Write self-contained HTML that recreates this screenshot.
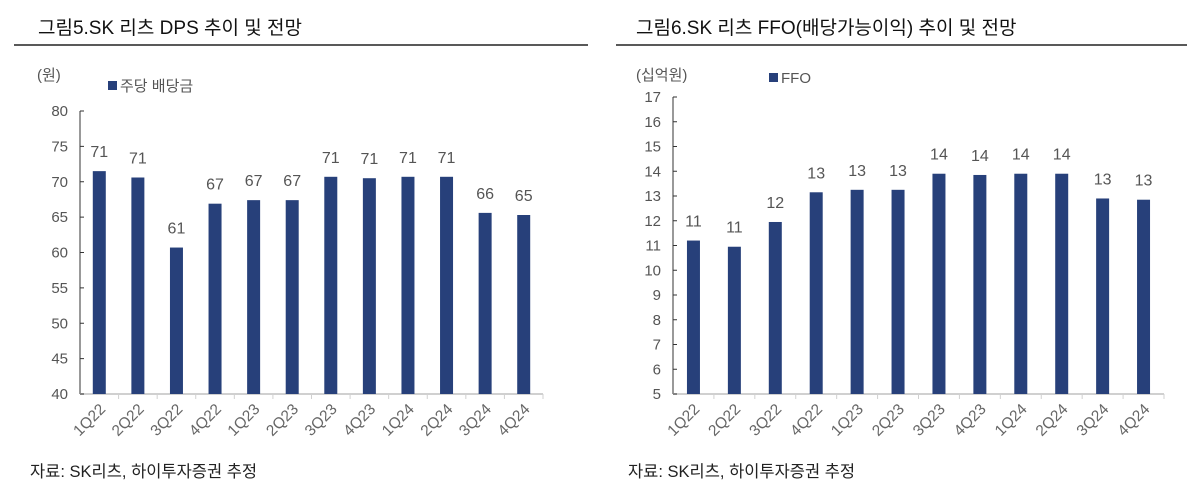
<!DOCTYPE html>
<html><head><meta charset="utf-8"><style>
body{margin:0;background:#fff;width:1199px;height:499px;overflow:hidden}
svg{display:block}
text{font-family:"Liberation Sans","Noto Sans CJK KR",sans-serif}
</style></head><body>
<svg id="s" width="1199" height="499" xmlns="http://www.w3.org/2000/svg"></svg>
<script>
const s=document.getElementById('s');let h='';
const cats=['1Q22','2Q22','3Q22','4Q22','1Q23','2Q23','3Q23','4Q23','1Q24','2Q24','3Q24','4Q24'];
const C='#27407a';
function chart(o){
 const {x0,x1,yTop,yBot,vmin,vmax,step,vals,labs}=o;
 const sc=(yBot-yTop)/(vmax-vmin), Y=v=>yBot-(v-vmin)*sc;
 h+=`<line x1="${x0}" y1="${yTop}" x2="${x0}" y2="${yBot}" stroke="#333" stroke-width="1"/>`;
 h+=`<line x1="${x0}" y1="${yBot}" x2="${x1}" y2="${yBot}" stroke="#d0d0d0" stroke-width="2"/>`;
 for(let v=vmin;v<=vmax+1e-9;v+=step){const y=Y(v);
  h+=`<line x1="${x0}" y1="${y}" x2="${x0+4}" y2="${y}" stroke="#333"/>`;
  h+=`<text x="${x0-12}" y="${y+5}" font-size="15" fill="#555" text-anchor="end">${v}</text>`;}
 const w=(x1-x0)/12;
 for(let i=0;i<12;i++){const cx=x0+w*(i+.5),y=Y(vals[i]);
  h+=`<line x1="${x0+w*(i+1)}" y1="${yBot}" x2="${x0+w*(i+1)}" y2="${yBot+5}" stroke="#d0d0d0"/>`;
  h+=`<rect x="${cx-6.5}" y="${y}" width="13" height="${yBot-y}" fill="${C}"/>`;
  h+=`<text x="${cx}" y="${y-14}" font-size="16" fill="#555" text-anchor="middle">${labs[i]}</text>`;
  h+=`<text transform="translate(${cx+7},${yBot+16}) rotate(-45)" font-size="15.5" fill="#666" text-anchor="end">${cats[i]}</text>`;}
}
// left
h+=`<text x="38" y="34" font-size="19" fill="#111">그림5.SK 리츠 DPS 추이 및 전망</text>`;
h+=`<line x1="14" y1="45" x2="588" y2="45" stroke="#222" stroke-width="1.5"/>`;
h+=`<text x="37" y="80" font-size="15" fill="#555">(원)</text>`;
h+=`<rect x="108" y="81" width="9" height="9" fill="${C}"/><text x="120" y="91" font-size="15" fill="#555">주당 배당금</text>`;
chart({x0:80,x1:543,yTop:111,yBot:394,vmin:40,vmax:80,step:5,
 vals:[71.5,70.6,60.7,66.9,67.4,67.4,70.7,70.5,70.7,70.7,65.6,65.3],
 labs:[71,71,61,67,67,67,71,71,71,71,66,65]});
h+=`<text x="30" y="477" font-size="16.5" fill="#222">자료: SK리츠, 하이투자증권 추정</text>`;
// right
h+=`<text x="636" y="34" font-size="19" fill="#111">그림6.SK 리츠 FFO(배당가능이익) 추이 및 전망</text>`;
h+=`<line x1="616" y1="45" x2="1187" y2="45" stroke="#222" stroke-width="1.5"/>`;
h+=`<text x="636" y="80" font-size="15" fill="#555">(십억원)</text>`;
h+=`<rect x="769" y="73" width="9" height="9" fill="${C}"/><text x="781" y="83" font-size="15" fill="#555">FFO</text>`;
chart({x0:673,x1:1164,yTop:97,yBot:394,vmin:5,vmax:17,step:1,
 vals:[11.2,10.95,11.95,13.15,13.25,13.25,13.9,13.85,13.9,13.9,12.9,12.85],
 labs:[11,11,12,13,13,13,14,14,14,14,13,13]});
h+=`<text x="628" y="477" font-size="16.5" fill="#222">자료: SK리츠, 하이투자증권 추정</text>`;
s.innerHTML=h;
</script>
</body></html>
